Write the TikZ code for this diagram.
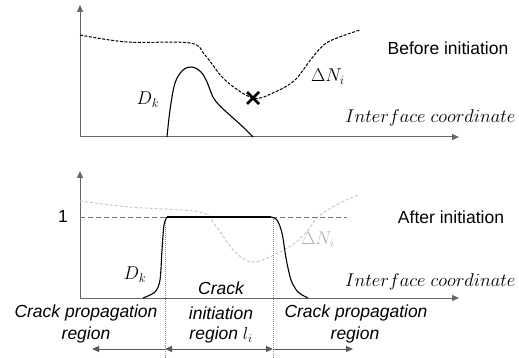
\documentclass[tikz,border=0pt]{standalone}
\usepackage{fontspec}
\setmainfont{Liberation Sans}
\usetikzlibrary{arrows.meta}
\begin{document}
\begin{tikzpicture}[x=1pt,y=-1pt,
  axis/.style={draw=black!60,line width=1pt,-{Triangle[length=7pt,width=6pt]}},
  curve/.style={draw=black,line width=1.1pt},
  dcurve/.style={draw=black,line width=1pt,dash pattern=on 3pt off 1.5pt},
  gcurve/.style={draw=black!22,line width=1pt,dash pattern=on 3pt off 2pt},
  lvl/.style={draw=black!55,line width=0.9pt,dash pattern=on 5pt off 3pt},
  vdot/.style={draw=black!45,line width=0.7pt,dash pattern=on 1pt off 1pt},
  rarr/.style={draw=black!65,line width=1pt,-{Triangle[length=7pt,width=6pt]}},
  txt/.style={font=\fontsize{17.5}{21}\selectfont,inner sep=0pt},
  itx/.style={font=\fontsize{17.5}{21}\selectfont\itshape,inner sep=0pt},
  mth/.style={font=\fontsize{17.28}{21}\selectfont,inner sep=0pt,scale=1.07},
  ifc/.style={font=\fontsize{17.28}{21}\selectfont,inner sep=0pt,anchor=west,scale=1.07}]
\useasboundingbox (0,0) rectangle (519,358);
% ---------- top plot ----------
\coordinate (o1) at (80,137);
\coordinate (y1) at (80,5);
\coordinate (x1) at (459,137);
\draw[axis] (o1) -- (y1);
\draw[axis] (o1) -- (x1);
\draw[dcurve] plot[smooth,tension=0.55] coordinates {(80,35) (127,42) (190,43) (205,55) (225,80) (253,98) (275,92) (295,80) (312,58) (328,42) (360,30)};
\draw[curve] plot[smooth,tension=0.55] coordinates {(167,137) (170,110) (175,83) (183,70) (192,67) (201,72) (207,82) (213,97) (220,106) (232,117) (242,126) (253,137)};
\coordinate (xa) at (247,92);
\coordinate (xb) at (259,104);
\coordinate (xc) at (259,92);
\coordinate (xd) at (247,104);
\draw[line width=2.6pt] (xa) -- (xb) (xc) -- (xd);
\node[mth] (dk1) at (148,100) {$D_k$};
\node[mth] (dn1) at (328,77) {$\Delta N_i$};
\node[txt] (bi) at (448,48) {Before initiation};
\node[ifc] (ic1) at (345,118) {$Interface\ coordinate$};
% ---------- bottom plot ----------
\coordinate (o2) at (80,298);
\coordinate (y2) at (80,171);
\coordinate (x2) at (459,298);
\draw[axis] (o2) -- (y2);
\draw[axis] (o2) -- (x2);
\coordinate (l0) at (80,217);
\coordinate (l1) at (347,217);
\draw[lvl] (l0) -- (l1);
\draw[gcurve] plot[smooth,tension=0.55] coordinates {(80,201) (130,207) (200,212) (215,225) (235,252) (252,262) (272,256) (295,243) (308,230) (318,217) (338,204) (358,195)};
\coordinate (va) at (165,217);
\coordinate (vb) at (273,217);
\coordinate (vae) at (165,358);
\coordinate (vbe) at (273,358);
\draw[vdot] (va) -- (vae);
\draw[vdot] (vb) -- (vbe);
\draw[curve] plot[smooth,tension=0.5] coordinates {(143,298) (155,292) (160,280) (162,250) (164,225) (167,217)};
\draw[curve] (167,217) -- (271,217);
\draw[curve] plot[smooth,tension=0.5] coordinates {(271,217) (277,220) (282,233) (286,258) (291,280) (298,292) (308,298)};
\node[txt] (one) at (63,216) {1};
\node[mth] (dk2) at (135,275) {$D_k$};
\node[mth,text=black!30] (dn2) at (318,240) {$\Delta N_i$};
\node[txt] (ai) at (451,217) {After initiation};
\node[ifc] (ic2) at (345,282) {$Interface\ coordinate$};
% labels below
\node[itx] (lp1) at (86,313) {Crack propagation};
\node[itx] (lp2) at (86,335) {region};
\node[itx] (ci1) at (221,288) {Crack};
\node[itx] (ci2) at (221,313) {initiation};
\node[itx] (ci3) at (221,335) {region $l_i$};
\node[itx] (rp1) at (356,313) {Crack propagation};
\node[itx] (rp2) at (355,335) {region};
% arrows
\coordinate (a0) at (92,349);
\coordinate (a1) at (165,349);
\coordinate (a2) at (273,349);
\coordinate (a3) at (353,349);
\draw[rarr] (a1) -- (a0);
\draw[rarr,{Triangle[length=7pt,width=6pt]}-{Triangle[length=7pt,width=6pt]}] (a1) -- (a2);
\draw[rarr] (a2) -- (a3);
\end{tikzpicture}
\end{document}
